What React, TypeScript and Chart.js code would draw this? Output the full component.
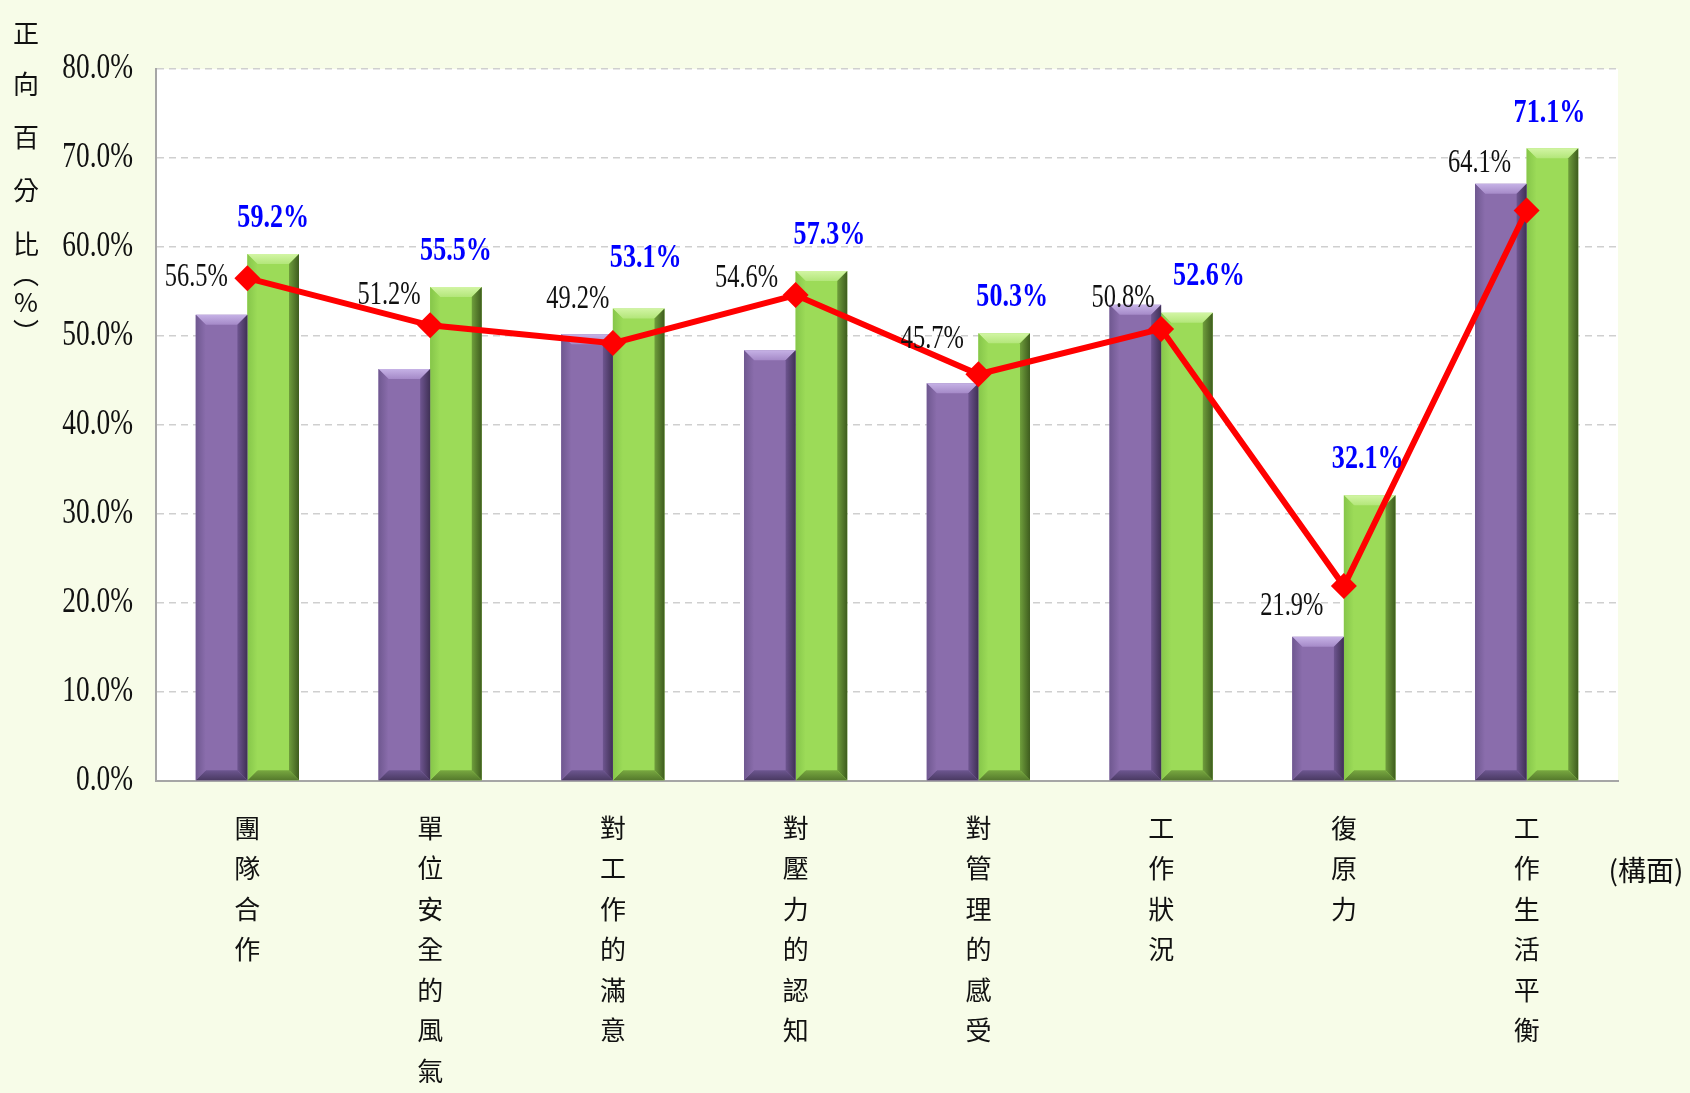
import React, { useEffect, useRef } from 'react';
import { Chart, registerables } from 'chart.js';

Chart.register(...registerables);

const categories = ['團隊合作', '單位安全的風氣', '對工作的滿意', '對壓力的認知', '對管理的感受', '工作狀況', '復原力', '工作生活平衡'];
const purpleValues = [52.4, 46.3, 50.2, 48.4, 44.7, 53.5, 16.2, 67.1];
const greenValues = [59.2, 55.5, 53.1, 57.3, 50.3, 52.6, 32.1, 71.1];
const lineValues = [56.5, 51.2, 49.2, 54.6, 45.7, 50.8, 21.9, 64.1];
const yTitleChars = ['正', '向', '百', '分', '比', '︵', '%', '︶'];
const xUnitLabel = '(構面)';

// label offsets (style) relative to the anchoring element
const lineLabelOffsets = [[-51, -1], [-41, -30], [-35, -44], [-49, -17], [-46, -35], [-38, -31], [-52, 20], [-47, -47]];
const greenLabelOffsets = [[0, -36], [0, -36], [7, -50], [8, -36], [8, -36], [22, -36], [-2, -36], [-3, -35]];
const yTitleOffsets = [33, 84, 137, 190, 244, 274, 302, 332];

const BG = '#f7fce8';
const PURPLE = '#8a6dac';
const GREEN = '#9cdb58';

function poly(ctx: CanvasRenderingContext2D, pts: number[][], fill: any) {
  ctx.beginPath();
  ctx.moveTo(pts[0][0], pts[0][1]);
  for (let i = 1; i < pts.length; i++) ctx.lineTo(pts[i][0], pts[i][1]);
  ctx.closePath();
  ctx.fillStyle = fill;
  ctx.fill();
}

function bevel(ctx: CanvasRenderingContext2D, el: any, c: any) {
  const { x, y, base, width } = el.getProps(['x', 'y', 'base', 'width'], true);
  const l = x - width / 2, r = x + width / 2;
  const t = Math.min(y, base), b = Math.max(y, base);
  const s = Math.min(10, (b - t) / 2);
  const gTop = ctx.createLinearGradient(0, t, 0, t + s);
  gTop.addColorStop(0, c.top0);
  gTop.addColorStop(1, c.top1);
  poly(ctx, [[l, t], [r, t], [r - s, t + s], [l + s, t + s]], gTop);
  const gRight = ctx.createLinearGradient(r - s, 0, r, 0);
  gRight.addColorStop(0, c.right0);
  gRight.addColorStop(1, c.right1);
  poly(ctx, [[r, t], [r, b], [r - s, b - s], [r - s, t + s]], gRight);
  const gBot = ctx.createLinearGradient(0, b - s, 0, b);
  gBot.addColorStop(0, c.bot0);
  gBot.addColorStop(1, c.bot1);
  poly(ctx, [[l, b], [r, b], [r - s, b - s], [l + s, b - s]], gBot);
  const gLeft = ctx.createLinearGradient(l, 0, l + s, 0);
  gLeft.addColorStop(0, c.left0);
  gLeft.addColorStop(1, c.left1);
  poly(ctx, [[l, t], [l + s, t + s], [l + s, b - s], [l, b]], gLeft);
}

const bevelColors: any = {
  0: { top0: '#c6b2e6', top1: '#a58ac8', right0: '#6e5590', right1: '#3f3055', bot0: '#6c5690', bot1: '#4a3a62', left0: '#6f5890', left1: '#8a6dac' },
  1: { top0: '#d2f5a4', top1: '#b3e67a', right0: '#6f9e3c', right1: '#3e5c1e', bot0: '#78a840', bot1: '#557a2c', left0: '#86c64a', left1: '#9cdb58' },
};

function drawText(ctx: CanvasRenderingContext2D, text: string, x: number, y: number, font: string, color: string, align: CanvasTextAlign, sx: number) {
  ctx.save();
  ctx.translate(x, y);
  ctx.scale(sx, 1);
  ctx.font = font;
  ctx.fillStyle = color;
  ctx.textAlign = align;
  ctx.textBaseline = 'middle';
  ctx.fillText(text, 0, 0);
  ctx.restore();
}

const decorPlugin = {
  id: 'decor',
  beforeDraw(chart: any) {
    const { ctx, chartArea: a, width, height } = chart;
    ctx.save();
    ctx.fillStyle = BG;
    ctx.fillRect(0, 0, width, height);
    ctx.fillStyle = '#ffffff';
    ctx.fillRect(a.left, a.top, a.right - a.left, a.bottom - a.top);
    ctx.restore();
  },
  afterDatasetDraw(chart: any, args: any) {
    const meta = args.meta;
    if (meta.type !== 'bar') return;
    const c = bevelColors[args.index];
    const ctx = chart.ctx;
    ctx.save();
    meta.data.forEach((el: any) => bevel(ctx, el, c));
    ctx.restore();
  },
  afterDraw(chart: any) {
    const { ctx, scales } = chart;
    const y = scales.y;
    const x = scales.x;
    y.ticks.forEach((t: any) => {
      drawText(ctx, t.value.toFixed(1) + '%', 133, y.getPixelForValue(t.value), '36px "Liberation Serif"', '#111', 'right', 0.76);
    });
    yTitleChars.forEach((ch, i) => {
      drawText(ctx, ch, 26, yTitleOffsets[i], '26px "Noto Sans CJK TC"', '#111', 'center', 1);
    });
    categories.forEach((cat, i) => {
      const cx = x.getPixelForValue(i);
      Array.from(cat).forEach((ch, j) => {
        drawText(ctx, ch, cx, y.bottom + 47 + j * 40.5, '26px "Noto Sans CJK TC"', '#111', 'center', 1);
      });
    });
    drawText(ctx, xUnitLabel, 1646, 870, '28px "Noto Sans CJK TC"', '#111', 'center', 1);
    const gMeta = chart.getDatasetMeta(1);
    gMeta.data.forEach((el: any, i: number) => {
      const [dx, dy] = greenLabelOffsets[i];
      drawText(ctx, greenValues[i].toFixed(1) + '%', el.x + dx, el.y + dy, 'bold 33px "Liberation Serif"', '#0000ff', 'center', 0.79);
    });
    const lMeta = chart.getDatasetMeta(2);
    lMeta.data.forEach((el: any, i: number) => {
      const [dx, dy] = lineLabelOffsets[i];
      drawText(ctx, lineValues[i].toFixed(1) + '%', el.x + dx, el.y + dy, '33px "Liberation Serif"', '#111', 'center', 0.74);
    });
  },
};

export default function App() {
  const ref = useRef<HTMLCanvasElement>(null);
  useEffect(() => {
    const chart = new Chart(ref.current as HTMLCanvasElement, {
      type: 'bar',
      data: {
        labels: categories,
        datasets: [
          { type: 'bar', label: 'A', data: purpleValues, backgroundColor: PURPLE, borderWidth: 0, order: 1, barPercentage: 1, categoryPercentage: 0.565 },
          { type: 'bar', label: 'B', data: greenValues, backgroundColor: GREEN, borderWidth: 0, order: 1, barPercentage: 1, categoryPercentage: 0.565 },
          {
            type: 'line', label: 'C', data: lineValues, borderColor: '#ff0000', borderWidth: 6, tension: 0,
            pointStyle: 'rectRot', pointRadius: 13, pointBackgroundColor: '#ff0000', pointBorderColor: '#ff0000', pointBorderWidth: 0, order: 0,
          },
        ] as any,
      },
      options: {
        animation: false,
        responsive: true,
        maintainAspectRatio: false,
        devicePixelRatio: 1,
        layout: { padding: { left: 156, top: 69, right: 72, bottom: 312 } },
        plugins: { legend: { display: false }, tooltip: { enabled: false } },
        scales: {
          x: {
            grid: { display: false, drawTicks: false },
            border: { display: true, color: '#a6a6a6', width: 2 },
            ticks: { display: false },
          },
          y: {
            min: 0, max: 80,
            ticks: { display: false, stepSize: 10 },
            grid: { color: '#cfcfcf', lineWidth: 1.5, drawTicks: false },
            border: { display: true, color: '#a6a6a6', width: 2, dash: [7, 5] },
          },
        },
      },
      plugins: [decorPlugin],
    });
    return () => chart.destroy();
  }, []);
  return (
    <div style={{ position: 'absolute', left: 0, top: 0, width: 1690, height: 1093, background: BG }}>
      <canvas ref={ref} />
    </div>
  );
}
